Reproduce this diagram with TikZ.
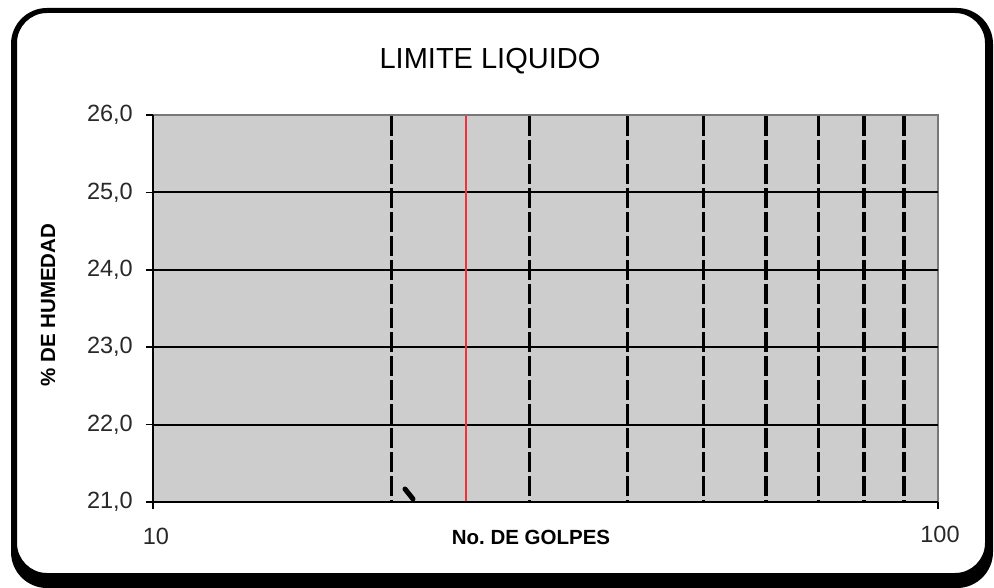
\documentclass[tikz,border=0pt]{standalone}
\usepackage{fontspec}
\setmainfont{Liberation Sans}
\frenchspacing
\definecolor{plotgray}{RGB}{205,205,205}
\definecolor{framegray}{RGB}{120,120,120}
\definecolor{limitred}{RGB}{240,50,60}
\definecolor{labelgray}{RGB}{40,40,40}
\tikzset{
  gridh/.style={line width=2pt, black},
  griddash/.style={line width=3.5pt, black, dash pattern=on 20pt off 4pt},
  ytick/.style={anchor=east, inner sep=0pt, text=labelgray, font=\fontsize{23.5}{23.5}\selectfont},
  xtick/.style={inner sep=0pt, text=labelgray, font=\fontsize{23.5}{23.5}\selectfont},
  axistitle/.style={inner sep=0pt, text=black, font=\bfseries\fontsize{20.5}{20.5}\selectfont},
}
\begin{document}
\begin{tikzpicture}[x=1pt, y=-1pt]
\useasboundingbox (0,0) rectangle (994,588);
% outer rounded frame (with heavier bottom/right edge)
\fill[black, even odd rule]
  [rounded corners=36pt] (11,8) rectangle (993,588)
  [rounded corners=30pt] (17,13) rectangle (985,573);
% title
\node[inner sep=0pt, font=\fontsize{29}{29}\selectfont] (title) at (490,61) {LIMITE LIQUIDO};
% plot area
\fill[plotgray] (153,115) rectangle (938,502);
\draw[framegray, line width=1.5pt] (153,115) -- (938,115) -- (938,502);
% horizontal grid lines
\foreach \v/\y in {25/192.4, 24/269.8, 23/347.2, 22/424.6} {
  \draw[gridh] (153,\y) -- (938,\y);
}
% vertical dashed grid lines (log scale 10..100)
\foreach \n in {20,30,40,50,60,70,80,90} {
  \pgfmathsetmacro{\xx}{155+785*log10(\n)-785}
  \draw[griddash] (\xx,116) -- (\xx,501);
}
% red line at 25
\pgfmathsetmacro{\xr}{154+785*log10(25)-785}
\draw[limitred, line width=2pt] (\xr,116) -- (\xr,502);
% axes
\draw[black, line width=2pt] (153,115) -- (153,503);
\draw[black, line width=2pt] (152,502) -- (938,502);
\foreach \y in {115,192.4,269.8,347.2,424.6,502} {
  \draw[black, line width=1.5pt] (146,\y) -- (153,\y);
}
\draw[black, line width=1.5pt] (153,502) -- (153,509);
\draw[black, line width=1.5pt] (938,502) -- (938,509);
% y tick labels
\node[ytick] (y26) at (133,115) {26,0};
\node[ytick] (y25) at (133,192.4) {25,0};
\node[ytick] (y24) at (133,269.8) {24,0};
\node[ytick] (y23) at (133,347.2) {23,0};
\node[ytick] (y22) at (133,424.6) {22,0};
\node[ytick] (y21) at (133,502) {21,0};
% x tick labels
\node[xtick] (x10) at (156,536) {10};
\node[xtick] (x100) at (940,534) {100};
% axis titles
\node[axistitle] (xtitle) at (531,537) {No. DE GOLPES};
\node[axistitle, rotate=90] (ytitle) at (48,305) {\% DE HUMEDAD};
% small cursor mark
\draw[black, line width=5pt, line cap=round] (405,489) -- (413,499);
\end{tikzpicture}
\end{document}
